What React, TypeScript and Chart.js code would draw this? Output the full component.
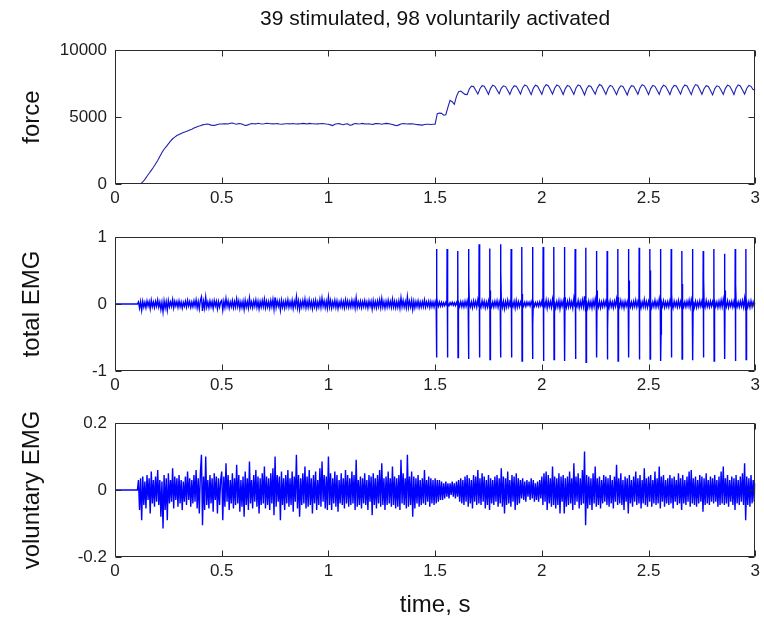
import React, { useEffect, useRef } from "react";
import { Chart, registerables } from "chart.js";

Chart.register(...registerables);

const TITLE = "39 stimulated, 98 voluntarily activated";
const X_LABEL = "time, s";
const Y_LABELS = ["force", "total EMG", "voluntary EMG"];
const X_TICKS = [0, 0.5, 1, 1.5, 2, 2.5, 3];
const FORCE_TICKS = [0, 5000, 10000];
const TOTAL_TICKS = [-1, 0, 1];
const VOL_TICKS = [-0.2, 0, 0.2];

// force, sampled every 0.01 s from 0 to 3 s
const FORCE_DT = 0.01;
const forceValues = [
  0, 0, 0, 0, 0, 0, 0, 0, 0, 0,
  0, 0, 0, 150, 350, 580, 800, 1020, 1250, 1500,
  1750, 2050, 2350, 2600, 2800, 3000, 3200, 3380, 3500, 3620,
  3700, 3780, 3850, 3900, 3960, 4030, 4100, 4180, 4250, 4310,
  4360, 4420, 4450, 4480, 4470, 4400, 4380, 4400, 4450, 4480,
  4480, 4490, 4500, 4480, 4540, 4560, 4500, 4470, 4520, 4500,
  4440, 4380, 4400, 4470, 4520, 4500, 4490, 4540, 4500, 4480,
  4500, 4540, 4520, 4500, 4490, 4500, 4510, 4480, 4470, 4490,
  4500, 4500, 4490, 4520, 4500, 4480, 4490, 4500, 4530, 4510,
  4490, 4530, 4510, 4500, 4480, 4490, 4500, 4510, 4500, 4480,
  4470, 4420, 4370, 4460, 4500, 4510, 4470, 4430, 4480, 4500,
  4390, 4420, 4500, 4520, 4480, 4500, 4530, 4490, 4480, 4500,
  4470, 4460, 4520, 4510, 4500, 4470, 4500, 4530, 4510, 4480,
  4450, 4400, 4360, 4420, 4480, 4520, 4500, 4480, 4490, 4500,
  4480, 4450, 4440, 4420, 4400, 4450, 4470, 4460, 4450, 4460,
  4470, 5250, 5300, 5280, 5150, 5180, 5750, 6250, 6150, 5950,
  6550, 6900, 6950, 6820, 6700, 6680, 7100, 7320, 7280, 7000,
  6720, 7120, 7350, 7300, 7020, 6700, 7150, 7380, 7300, 7030,
  6750, 7150, 7340, 7280, 7000, 6700, 7100, 7330, 7300, 7050,
  6720, 7180, 7400, 7320, 7020, 6680, 7150, 7380, 7310, 7000,
  6700, 7200, 7420, 7350, 7050, 6720, 7160, 7400, 7320, 7040,
  6690, 7130, 7360, 7300, 7010, 6700, 7170, 7410, 7330, 7020,
  6660, 7120, 7350, 7290, 7000, 6720, 7180, 7430, 7350, 7050,
  6700, 7140, 7360, 7300, 7010, 6680, 7110, 7340, 7290, 6990,
  6650, 7100, 7350, 7300, 7030, 6710, 7170, 7420, 7340, 7040,
  6680, 7130, 7360, 7300, 7000, 6700, 7150, 7380, 7300, 7010,
  6690, 7140, 7370, 7320, 7020, 6710, 7180, 7400, 7330, 7030,
  6680, 7150, 7430, 7360, 7040, 6700, 7120, 7350, 7290, 6990,
  6660, 7110, 7340, 7280, 7000, 6700, 7150, 7390, 7320, 7020,
  6690, 7160, 7400, 7330, 7030, 6720, 7140, 7370, 7300, 7050,
  7050,
];

// voluntary EMG in thousandths, sampled every 0.005 s from 0.1 s to 3 s
const VOL_T0 = 0.1;
const VOL_DT = 0.005;
const voluntaryEmgMilli = [
  0, 0, 30, -60, 35, -90, 40, -45, 25, -55, 45, -30, 35, -70, 55, -40, 30, -50, 40, -35,
  60, -45, 30, -80, 25, -115, 45, -60, 35, -90, 50, -40, 30, -35, 65, -55, 40, -30, 35, -50,
  45, -40, 30, -60, 25, -35, 40, -45, 55, -30, 35, -50, 30, -40, 45, -35, 60, -55, 35, -70,
  50, 105, -105, 40, -60, 100, -45, 30, -55, 45, -40, 35, -65, 50, -30, 40, -70, 35, -45, 30,
  55, -90, 40, -50, 80, -35, 45, -60, 30, -40, 50, -55, 35, -45, 75, -40, 45, -65, 30, -50,
  40, -80, 55, -45, 35, -60, 85, -40, 30, -55, 45, -35, 60, -50, 40, -70, 35, -45, 50, -40,
  70, -55, 40, -45, 35, -60, 50, -40, 65, -75, 100, -50, 45, -35, 40, -90, 55, -45, 35, -60,
  45, -40, 60, -50, 35, -45, 55, -65, 40, -35, 105, -55, 45, -80, 35, -45, 50, -40, 70, -55,
  40, -50, 60, -45, 35, -70, 45, -40, 55, -60, 30, -45, 65, -50, 85, -35, 45, -55, 40, -60,
  100, -45, 50, -60, 35, -40, 55, -50, 45, -65, 30, -40, 50, -45, 35, -55, 60, -40, 45, -50,
  35, -45, 55, -40, 45, -60, 90, -50, 30, -45, 40, -55, 35, -40, 50, -45, 30, -60, 45, -35,
  40, -75, 50, -45, 35, -55, 45, -40, 60, -50, 80, -45, 35, -60, 40, -45, 55, -40, 35, -50,
  70, -45, 40, -55, 35, -50, 45, -60, 90, -40, 50, -45, 35, -55, 105, -50, 40, -45, 55, -80,
  40, -55, 35, -40, 45, -50, 30, -45, 35, -40, 60, -45, 30, -35, 40, -50, 35, -40, 30, -45,
  35, -40, 30, -35, 30, -30, 25, -30, 20, -25, 25, -20, 20, -25, 20, -15, 25, -20, 20, -25,
  25, -20, 30, -35, 35, -40, 30, -45, 40, -35, 45, -50, 35, -40, 30, -55, 45, -35, 40, -45,
  60, -40, 35, -45, 50, -35, 40, -55, 30, -45, 45, -60, 35, -40, 30, -45, 40, -35, 45, -50,
  35, -40, 65, -50, 40, -70, 35, -45, 55, -40, 30, -50, 45, -35, 40, -60, 50, -45, 35, -40,
  30, -25, 35, -30, 25, -35, 30, -20, 25, -30, 35, -25, 30, -35, 20, -30, 25, -35, 30, -25,
  40, -45, 50, -35, 55, -60, 45, -40, 35, -50, 70, -45, 40, -55, 35, -45, 50, -70, 40, -35,
  45, -70, 35, -50, 40, -45, 55, -40, 35, -60, 80, -45, 40, -35, 50, -55, 35, -45, 60, -40,
  115, -105, 45, -55, 40, -45, 35, -60, 50, -40, 70, -50, 35, -45, 40, -55, 30, -40, 45, -35,
  40, -45, 35, -50, 45, -40, 30, -55, 40, -35, 75, -45, 35, -40, 50, -45, 30, -60, 40, -35,
  35, -70, 45, -40, 30, -50, 40, -35, 55, -45, 35, -40, 45, -55, 30, -40, 65, -45, 35, -50,
  40, -35, 45, -50, 30, -40, 55, -45, 35, -40, 70, -55, 40, -35, 45, -50, 30, -40, 35, -45,
  45, -40, 35, -55, 40, -35, 30, -45, 50, -40, 35, -60, 45, -40, 30, -45, 40, -35, 55, -50,
  60, -40, 35, -45, 40, -50, 30, -40, 45, -35, 40, -65, 35, -45, 50, -40, 30, -45, 40, -35,
  35, -40, 45, -35, 30, -50, 40, -45, 55, -40, 70, -45, 35, -40, 45, -50, 30, -35, 40, -45,
  35, -60, 45, -40, 30, -45, 40, -35, 50, -45, 80, -90, 40, -45, 35, -50, 45, -40, 30, -35,
  20,
];

// stimulation artefacts in the total EMG (30 stimuli, 20 Hz)
const stimTimes = [
  1.506, 1.556, 1.606, 1.656, 1.706, 1.756, 1.806, 1.856, 1.906, 1.956,
  2.006, 2.056, 2.106, 2.156, 2.206, 2.256, 2.306, 2.356, 2.406, 2.456,
  2.506, 2.556, 2.606, 2.656, 2.706, 2.756, 2.806, 2.856, 2.906, 2.956,
];
const stimUp = [
  0.82, 0.82, 0.79, 0.82, 0.89, 0.83, 0.89, 0.82, 0.85, 0.85,
  0.85, 0.85, 0.85, 0.82, 0.84, 0.79, 0.79, 0.82, 0.82, 0.84,
  0.82, 0.82, 0.82, 0.79, 0.82, 0.79, 0.82, 0.75, 0.82, 0.82,
];
const stimDown = [
  -0.8, -0.8, -0.8, -0.82, -0.8, -0.83, -0.8, -0.8, -0.85, -0.82,
  -0.85, -0.83, -0.85, -0.82, -0.87, -0.8, -0.83, -0.85, -0.8, -0.83,
  -0.82, -0.85, -0.8, -0.82, -0.84, -0.8, -0.85, -0.82, -0.85, -0.83,
];
const stimAfter = [
  0.1, 0.45, -0.1, 0.4, -0.45, 0.2, 0.5, -0.1, 0.15, -0.3,
  0.4, -0.2, 0.1, 0.45, -0.15, 0.2, -0.4, 0.1, 0.35, -0.1,
  0.5, -0.45, 0.15, 0.3, -0.1, 0.4, -0.5, 0.2, 0.3, -0.1,
];

const FONT = "'Liberation Sans', Arial, Helvetica, sans-serif";
const TEXT = "#1e1e1e";
const AXIS = "#2a2a2a";

function forcePoints() {
  return forceValues.map((v, i) => ({ x: +(i * FORCE_DT).toFixed(4), y: v }));
}

function voluntaryPoints() {
  const pts = [{ x: 0, y: 0 }];
  voluntaryEmgMilli.forEach((v, i) => {
    pts.push({ x: +(VOL_T0 + i * VOL_DT).toFixed(4), y: v / 1000 });
  });
  return pts;
}

function totalPoints() {
  const pts = [{ x: 0, y: 0 }];
  let k = 0;
  voluntaryEmgMilli.forEach((v, i) => {
    const t = +(VOL_T0 + i * VOL_DT).toFixed(4);
    pts.push({ x: t, y: v / 1000 });
    while (k < stimTimes.length && stimTimes[k] >= t && stimTimes[k] < t + VOL_DT) {
      const ts = stimTimes[k];
      pts.push({ x: ts, y: stimUp[k] });
      pts.push({ x: ts + 0.0012, y: stimDown[k] });
      pts.push({ x: ts + 0.0025, y: stimAfter[k] });
      k++;
    }
  });
  return pts;
}

const boxPlugin = {
  id: "matlabBox",
  afterDraw(chart: any) {
    const { ctx, chartArea: a, scales } = chart;
    const L = Math.round(a.left) + 0.5;
    const R = Math.round(a.right) - 0.5;
    const T = Math.round(a.top) + 0.5;
    const B = Math.round(a.bottom) - 0.5;
    ctx.save();
    ctx.strokeStyle = AXIS;
    ctx.lineWidth = 1;
    ctx.beginPath();
    ctx.rect(L, T, R - L, B - T);
    const len = 6;
    for (const t of scales.x.ticks) {
      const px = Math.round(scales.x.getPixelForValue(t.value)) + 0.5;
      ctx.moveTo(px, B);
      ctx.lineTo(px, B - len);
      ctx.moveTo(px, T);
      ctx.lineTo(px, T + len);
    }
    for (const t of scales.y.ticks) {
      const py = Math.round(scales.y.getPixelForValue(t.value)) + 0.5;
      ctx.moveTo(L, py);
      ctx.lineTo(L + len, py);
      ctx.moveTo(R, py);
      ctx.lineTo(R - len, py);
    }
    ctx.stroke();
    ctx.restore();
  },
};

function fmt(v: number) {
  return String(Number(v.toFixed(3)));
}

type PanelProps = {
  top: number;
  height: number;
  padTop: number;
  xHeight: number;
  points: { x: number; y: number }[];
  color: string;
  lineWidth: number;
  yMin: number;
  yMax: number;
  yTicks: number[];
  yLabel: string;
  title?: string;
  xLabel?: string;
};

function Panel(p: PanelProps) {
  const ref = useRef<HTMLCanvasElement | null>(null);
  useEffect(() => {
    if (!ref.current) return;
    const chart = new Chart(ref.current, {
      type: "line",
      data: {
        datasets: [
          {
            data: p.points,
            borderColor: p.color,
            borderWidth: p.lineWidth,
            pointRadius: 0,
            tension: 0,
            fill: false,
          },
        ],
      },
      options: {
        animation: false,
        responsive: false,
        maintainAspectRatio: false,
        events: [],
        layout: { padding: { top: p.padTop, right: 5, left: 0, bottom: 0 } },
        plugins: {
          legend: { display: false },
          tooltip: { enabled: false },
          title: {
            display: !!p.title,
            text: p.title || "",
            fullSize: false,
            color: "#111111",
            font: { family: FONT, size: 21, weight: "normal" },
            padding: { top: 7, bottom: 18 },
          },
        },
        scales: {
          x: {
            type: "linear",
            min: 0,
            max: 3,
            afterBuildTicks: (s: any) => {
              s.ticks = X_TICKS.map((v) => ({ value: v }));
            },
            afterFit: (s: any) => {
              s.height = p.xHeight;
            },
            grid: { display: false, drawTicks: false },
            border: { display: false },
            ticks: {
              padding: 4,
              color: TEXT,
              font: { family: FONT, size: 17 },
              maxRotation: 0,
              autoSkip: false,
              callback: (v: any) => fmt(Number(v)),
            },
            title: {
              display: !!p.xLabel,
              text: p.xLabel || "",
              color: "#111111",
              font: { family: FONT, size: 24 },
              padding: { top: 0, bottom: 9.6 },
            },
          },
          y: {
            type: "linear",
            min: p.yMin,
            max: p.yMax,
            afterBuildTicks: (s: any) => {
              s.ticks = p.yTicks.map((v) => ({ value: v }));
            },
            afterFit: (s: any) => {
              s.width = 115;
            },
            grid: { display: false, drawTicks: false },
            border: { display: false },
            ticks: {
              padding: 8,
              color: TEXT,
              font: { family: FONT, size: 17 },
              autoSkip: false,
              callback: (v: any) => fmt(Number(v)),
            },
            title: {
              display: true,
              text: p.yLabel,
              color: "#111111",
              font: { family: FONT, size: 24 },
              padding: { top: 18, bottom: 0 },
            },
          },
        },
      } as any,
      plugins: [boxPlugin],
    });
    return () => chart.destroy();
  }, []);
  return (
    <canvas
      ref={ref}
      width={764}
      height={p.height}
      style={{ position: "absolute", left: 0, top: p.top, width: 764, height: p.height }}
    />
  );
}

export default function App() {
  return (
    <div
      style={{
        position: "absolute",
        left: 0,
        top: 0,
        width: 764,
        height: 629,
        background: "#ffffff",
        overflow: "hidden",
      }}
    >
      <Panel
        top={0}
        height={210}
        padTop={0}
        xHeight={26}
        points={forcePoints()}
        color="#2020b0"
        lineWidth={1.1}
        yMin={0}
        yMax={10000}
        yTicks={FORCE_TICKS}
        yLabel={Y_LABELS[0]}
        title={TITLE}
      />
      <Panel
        top={210}
        height={187}
        padTop={27}
        xHeight={26}
        points={totalPoints()}
        color="#0000ff"
        lineWidth={1.4}
        yMin={-1}
        yMax={1}
        yTicks={TOTAL_TICKS}
        yLabel={Y_LABELS[1]}
      />
      <Panel
        top={397}
        height={232}
        padTop={26}
        xHeight={72}
        points={voluntaryPoints()}
        color="#0000ff"
        lineWidth={1.4}
        yMin={-0.2}
        yMax={0.2}
        yTicks={VOL_TICKS}
        yLabel={Y_LABELS[2]}
        xLabel={X_LABEL}
      />
    </div>
  );
}
